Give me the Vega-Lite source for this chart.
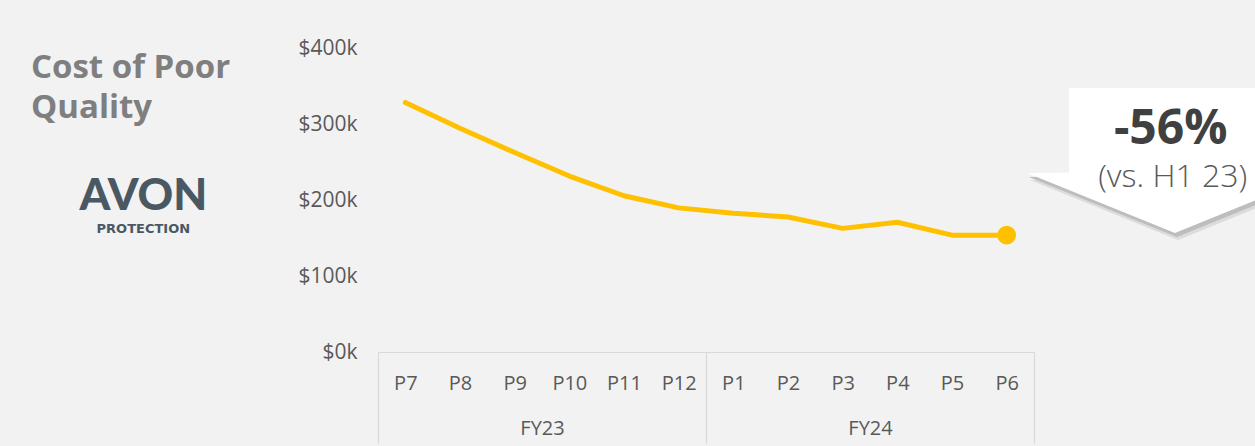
{
  "$schema": "https://vega.github.io/schema/vega-lite/v6.json",
  "width": 656,
  "height": 303.4,
  "autosize": {"type": "none"},
  "padding": {"left": 378, "top": 48.6, "right": 221, "bottom": 94},
  "background": "#f2f2f2",
  "config": {"view": {"stroke": null}, "font": "Open Sans", "axis": {"grid": false}},
  "title": {
    "text": ["Cost of Poor", "Quality"],
    "anchor": "start",
    "frame": "group",
    "orient": "top",
    "offset": 0,
    "dx": -347,
    "dy": 87,
    "font": "Open Sans",
    "fontSize": 33,
    "fontWeight": "bold",
    "color": "#7f7f7f",
    "lineHeight": 39.5
  },
  "data": {
    "values": [
      {"fy": "FY23", "period": "P7", "value": 329000},
      {"fy": "FY23", "period": "P8", "value": 295000},
      {"fy": "FY23", "period": "P9", "value": 263000},
      {"fy": "FY23", "period": "P10", "value": 232000},
      {"fy": "FY23", "period": "P11", "value": 206000},
      {"fy": "FY23", "period": "P12", "value": 190000},
      {"fy": "FY24", "period": "P1", "value": 183000},
      {"fy": "FY24", "period": "P2", "value": 178000},
      {"fy": "FY24", "period": "P3", "value": 163000},
      {"fy": "FY24", "period": "P4", "value": 171000},
      {"fy": "FY24", "period": "P5", "value": 154000},
      {"fy": "FY24", "period": "P6", "value": 154000}
    ]
  },
  "layer": [
    {
      "layer": [
        {
          "mark": {"type": "line", "color": "#FFC000", "strokeWidth": 5, "strokeCap": "round", "strokeJoin": "round"},
          "encoding": {
            "x": {
              "field": "period", "type": "ordinal", "sort": null,
              "scale": {"type": "point", "padding": 0.5},
              "axis": {"title": null, "orient": "bottom", "domain": false, "ticks": false, "labelPadding": 21, "labelFontSize": 20, "labelColor": "#595959", "labelAngle": 0}
            },
            "y": {
              "field": "value", "type": "quantitative",
              "scale": {"domain": [0, 400000]},
              "axis": {"title": null, "values": [0, 100000, 200000, 300000, 400000], "labelExpr": "'$' + datum.value / 1000 + 'k'", "domain": false, "ticks": false, "grid": false, "labelPadding": 21, "labelFontSize": 21, "labelColor": "#595959"}
            }
          }
        },
        {
          "transform": [{"filter": "datum.period == 'P6'"}],
          "mark": {"type": "point", "filled": true, "color": "#FFC000", "size": 350, "opacity": 1},
          "encoding": {
            "x": {"field": "period", "type": "ordinal", "sort": null},
            "y": {"field": "value", "type": "quantitative"}
          }
        },
        {
          "data": {"values": [{"label": "callout"}]},
          "mark": {"type": "point", "filled": true, "color": "#dcdcdc", "opacity": 1, "size": 87616,
            "shape": "M0.442,-0.45L1.874,-0.45L1.874,0.115L2.158,0.119L1.158,0.524L0.158,0.119L0.442,0.115Z"},
          "encoding": {"x": {"datum": "P6", "type": "ordinal"}, "y": {"datum": 250000, "type": "quantitative"}}
        },
        {
          "data": {"values": [{"label": "callout"}]},
          "mark": {"type": "point", "filled": true, "color": "#bdbdbd", "opacity": 1, "size": 87616,
            "shape": "M0.434,-0.476L1.866,-0.476L1.866,0.095L2.15,0.099L1.15,0.504L0.15,0.099L0.434,0.095Z"},
          "encoding": {"x": {"datum": "P6", "type": "ordinal"}, "y": {"datum": 250000, "type": "quantitative"}}
        },
        {
          "data": {"values": [{"label": "callout"}]},
          "mark": {"type": "point", "filled": true, "color": "#ffffff", "opacity": 1, "size": 87616,
            "shape": "M0.421,-0.503L1.853,-0.503L1.853,0.068L2.137,0.072L1.137,0.477L0.137,0.072L0.421,0.068Z"},
          "encoding": {"x": {"datum": "P6", "type": "ordinal"}, "y": {"datum": 250000, "type": "quantitative"}}
        },
        {
          "data": {"values": [{"label": "-56%"}]},
          "mark": {"type": "text", "align": "center", "baseline": "middle", "dx": 164, "dy": -2, "font": "Open Sans", "fontSize": 48, "fontWeight": "bold", "color": "#404040"},
          "encoding": {"text": {"field": "label"}, "x": {"datum": "P6", "type": "ordinal"}, "y": {"datum": 290000, "type": "quantitative"}}
        },
        {
          "data": {"values": [{"label": "(vs. H1 23)"}]},
          "mark": {"type": "text", "align": "center", "baseline": "middle", "dx": 166, "dy": 1, "font": "Open Sans", "fontSize": 32, "fontWeight": 300, "color": "#595959"},
          "encoding": {"text": {"field": "label"}, "x": {"datum": "P6", "type": "ordinal"}, "y": {"datum": 232000, "type": "quantitative"}}
        },
        {
          "data": {"values": [{"label": "AVON"}]},
          "mark": {"type": "text", "align": "center", "baseline": "middle", "dx": -262, "dy": -3, "font": "Lato", "fontSize": 44, "fontWeight": 900, "color": "#4a5864"},
          "encoding": {"text": {"field": "label"}, "x": {"datum": "P7", "type": "ordinal"}, "y": {"datum": 200000, "type": "quantitative"}}
        },
        {
          "data": {"values": [{"label": "PROTECTION"}]},
          "mark": {"type": "text", "align": "center", "baseline": "middle", "dx": -262, "font": "DejaVu Sans", "fontSize": 13, "fontWeight": "bold", "color": "#4a5864"},
          "encoding": {"text": {"field": "label"}, "x": {"datum": "P7", "type": "ordinal"}, "y": {"datum": 162000, "type": "quantitative"}}
        }
      ]
    },
    {
      "mark": {"type": "tick", "opacity": 0},
      "encoding": {
        "x": {
          "field": "fy", "type": "nominal",
          "scale": {"type": "band", "paddingInner": 0, "paddingOuter": 0},
          "axis": {"title": null, "orient": "bottom", "domain": true, "domainColor": "#d9d9d9", "domainWidth": 1.2, "ticks": true, "tickBand": "extent", "tickSize": 91, "tickColor": "#d9d9d9", "tickWidth": 1.2, "labelPadding": -25, "labelFontSize": 20, "labelColor": "#595959", "labelAngle": 0}
        }
      }
    }
  ],
  "resolve": {"scale": {"x": "independent"}, "axis": {"x": "independent"}}
}
